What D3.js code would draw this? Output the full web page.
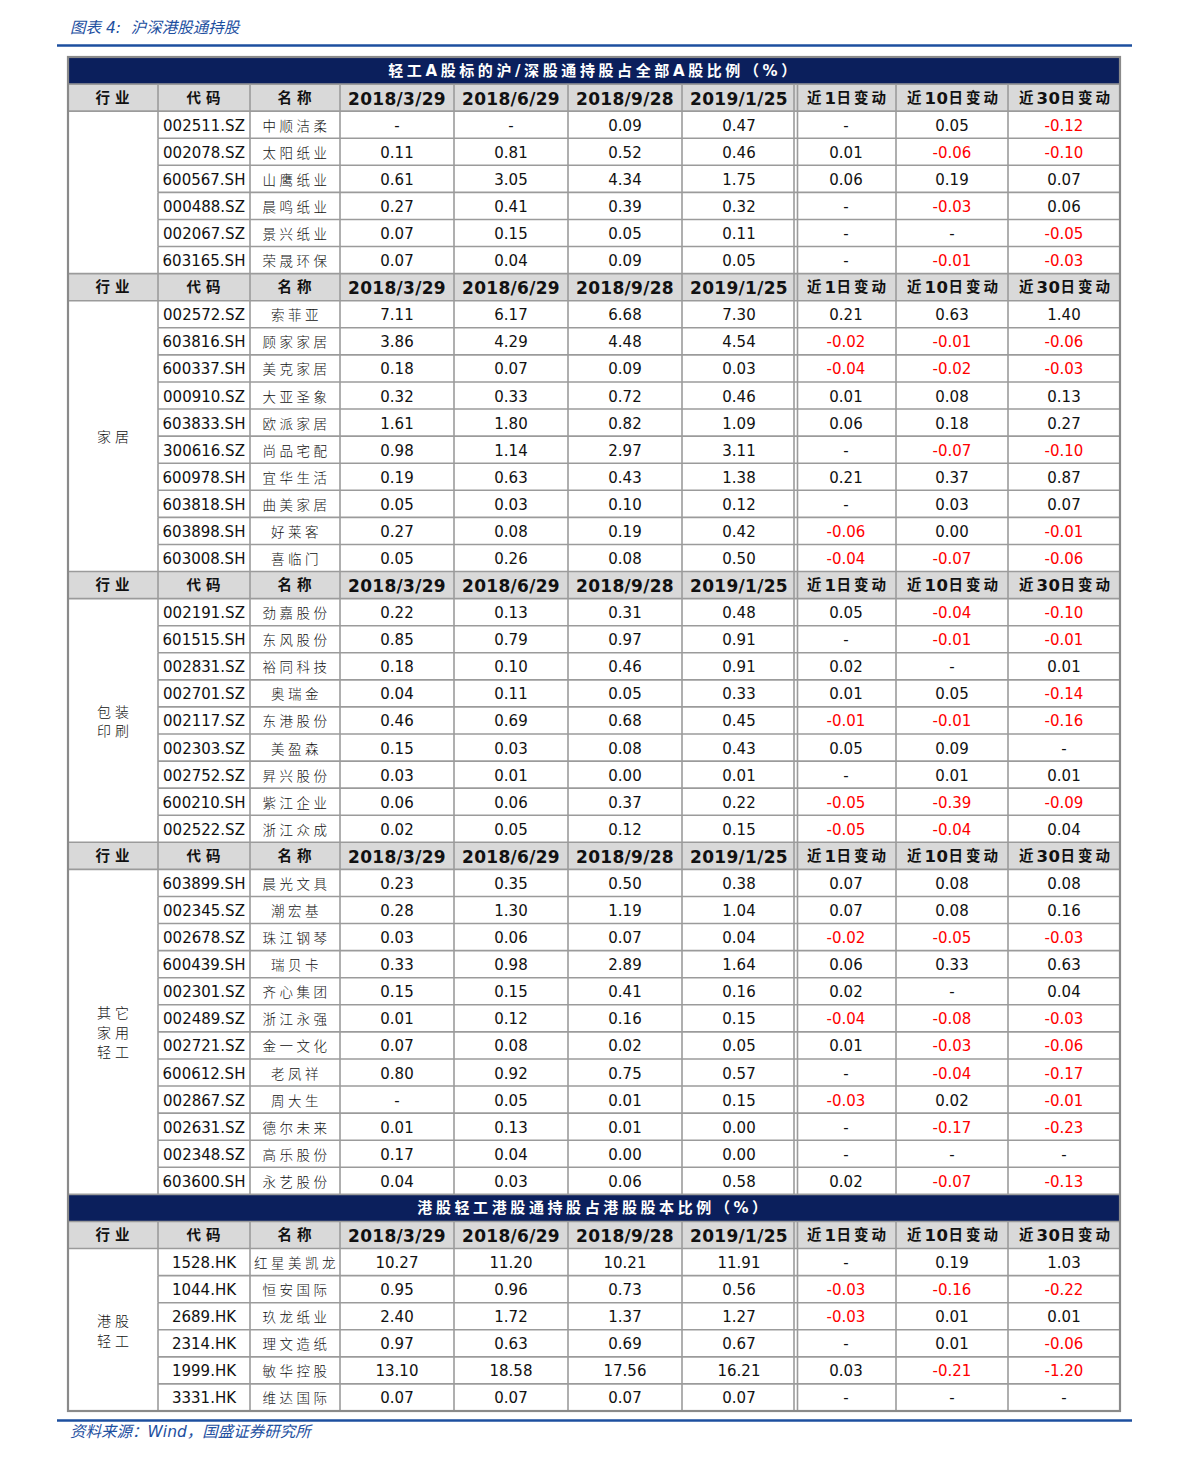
<!DOCTYPE html>
<html>
<head>
<meta charset="utf-8">
<script src="https://cdn.jsdelivr.net/npm/d3@7"></script>
<style>
  html, body { margin: 0; padding: 0; background: #fff; }
  svg { display: block; }
</style>
</head>
<body>
<svg id="chart" width="1191" height="1460"></svg>
<script>
// ---------- DATA ----------
const figureTitle = "图表 4:  沪深港股通持股";
const sourceNote = "资料来源：Wind，国盛证券研究所";
const tableTitleA = "轻工A股标的沪/深股通持股占全部A股比例（%）";
const tableTitleHK = "港股轻工港股通持股占港股股本比例（%）";
const headerLabels = ["行业", "代码", "名称", "2018/3/29", "2018/6/29", "2018/9/28", "2019/1/25", "近1日变动", "近10日变动", "近30日变动"];

const industries = ["", "家居", "包装\n印刷", "其它\n家用\n轻工", "港股\n轻工"];

const rowsPaper = [
  ["002511.SZ", "中顺洁柔", "-", "-", "0.09", "0.47", "-", "0.05", "-0.12"],
  ["002078.SZ", "太阳纸业", "0.11", "0.81", "0.52", "0.46", "0.01", "-0.06", "-0.10"],
  ["600567.SH", "山鹰纸业", "0.61", "3.05", "4.34", "1.75", "0.06", "0.19", "0.07"],
  ["000488.SZ", "晨鸣纸业", "0.27", "0.41", "0.39", "0.32", "-", "-0.03", "0.06"],
  ["002067.SZ", "景兴纸业", "0.07", "0.15", "0.05", "0.11", "-", "-", "-0.05"],
  ["603165.SH", "荣晟环保", "0.07", "0.04", "0.09", "0.05", "-", "-0.01", "-0.03"]
];
const rowsHome = [
  ["002572.SZ", "索菲亚", "7.11", "6.17", "6.68", "7.30", "0.21", "0.63", "1.40"],
  ["603816.SH", "顾家家居", "3.86", "4.29", "4.48", "4.54", "-0.02", "-0.01", "-0.06"],
  ["600337.SH", "美克家居", "0.18", "0.07", "0.09", "0.03", "-0.04", "-0.02", "-0.03"],
  ["000910.SZ", "大亚圣象", "0.32", "0.33", "0.72", "0.46", "0.01", "0.08", "0.13"],
  ["603833.SH", "欧派家居", "1.61", "1.80", "0.82", "1.09", "0.06", "0.18", "0.27"],
  ["300616.SZ", "尚品宅配", "0.98", "1.14", "2.97", "3.11", "-", "-0.07", "-0.10"],
  ["600978.SH", "宜华生活", "0.19", "0.63", "0.43", "1.38", "0.21", "0.37", "0.87"],
  ["603818.SH", "曲美家居", "0.05", "0.03", "0.10", "0.12", "-", "0.03", "0.07"],
  ["603898.SH", "好莱客", "0.27", "0.08", "0.19", "0.42", "-0.06", "0.00", "-0.01"],
  ["603008.SH", "喜临门", "0.05", "0.26", "0.08", "0.50", "-0.04", "-0.07", "-0.06"]
];
const rowsPack = [
  ["002191.SZ", "劲嘉股份", "0.22", "0.13", "0.31", "0.48", "0.05", "-0.04", "-0.10"],
  ["601515.SH", "东风股份", "0.85", "0.79", "0.97", "0.91", "-", "-0.01", "-0.01"],
  ["002831.SZ", "裕同科技", "0.18", "0.10", "0.46", "0.91", "0.02", "-", "0.01"],
  ["002701.SZ", "奥瑞金", "0.04", "0.11", "0.05", "0.33", "0.01", "0.05", "-0.14"],
  ["002117.SZ", "东港股份", "0.46", "0.69", "0.68", "0.45", "-0.01", "-0.01", "-0.16"],
  ["002303.SZ", "美盈森", "0.15", "0.03", "0.08", "0.43", "0.05", "0.09", "-"],
  ["002752.SZ", "昇兴股份", "0.03", "0.01", "0.00", "0.01", "-", "0.01", "0.01"],
  ["600210.SH", "紫江企业", "0.06", "0.06", "0.37", "0.22", "-0.05", "-0.39", "-0.09"],
  ["002522.SZ", "浙江众成", "0.02", "0.05", "0.12", "0.15", "-0.05", "-0.04", "0.04"]
];
const rowsOther = [
  ["603899.SH", "晨光文具", "0.23", "0.35", "0.50", "0.38", "0.07", "0.08", "0.08"],
  ["002345.SZ", "潮宏基", "0.28", "1.30", "1.19", "1.04", "0.07", "0.08", "0.16"],
  ["002678.SZ", "珠江钢琴", "0.03", "0.06", "0.07", "0.04", "-0.02", "-0.05", "-0.03"],
  ["600439.SH", "瑞贝卡", "0.33", "0.98", "2.89", "1.64", "0.06", "0.33", "0.63"],
  ["002301.SZ", "齐心集团", "0.15", "0.15", "0.41", "0.16", "0.02", "-", "0.04"],
  ["002489.SZ", "浙江永强", "0.01", "0.12", "0.16", "0.15", "-0.04", "-0.08", "-0.03"],
  ["002721.SZ", "金一文化", "0.07", "0.08", "0.02", "0.05", "0.01", "-0.03", "-0.06"],
  ["600612.SH", "老凤祥", "0.80", "0.92", "0.75", "0.57", "-", "-0.04", "-0.17"],
  ["002867.SZ", "周大生", "-", "0.05", "0.01", "0.15", "-0.03", "0.02", "-0.01"],
  ["002631.SZ", "德尔未来", "0.01", "0.13", "0.01", "0.00", "-", "-0.17", "-0.23"],
  ["002348.SZ", "高乐股份", "0.17", "0.04", "0.00", "0.00", "-", "-", "-"],
  ["603600.SH", "永艺股份", "0.04", "0.03", "0.06", "0.58", "0.02", "-0.07", "-0.13"]
];
const rowsHK = [
  ["1528.HK", "红星美凯龙", "10.27", "11.20", "10.21", "11.91", "-", "0.19", "1.03"],
  ["1044.HK", "恒安国际", "0.95", "0.96", "0.73", "0.56", "-0.03", "-0.16", "-0.22"],
  ["2689.HK", "玖龙纸业", "2.40", "1.72", "1.37", "1.27", "-0.03", "0.01", "0.01"],
  ["2314.HK", "理文造纸", "0.97", "0.63", "0.69", "0.67", "-", "0.01", "-0.06"],
  ["1999.HK", "敏华控股", "13.10", "18.58", "17.56", "16.21", "0.03", "-0.21", "-1.20"],
  ["3331.HK", "维达国际", "0.07", "0.07", "0.07", "0.07", "-", "-", "-"]
];

// sections: [titleBefore (or null), industry label, rows]
const sections = [
  [tableTitleA, industries[0], rowsPaper],
  [null, industries[1], rowsHome],
  [null, industries[2], rowsPack],
  [null, industries[3], rowsOther],
  [tableTitleHK, industries[4], rowsHK]
];

// ---------- LAYOUT ----------
const colWidths = [90, 92, 90, 114, 114, 114, 114, 100, 112, 112];
const tableLeft = 68, tableTop = 57, tableBottom = 1411;

const flat = [];
sections.forEach(([title, ind, rows], si) => {
  if (title) flat.push({type: "title", text: title});
  flat.push({type: "header"});
  rows.forEach((r, i) => flat.push({type: "data", row: r, section: si, idx: i, n: rows.length, ind}));
});

const y = d3.scaleBand().domain(d3.range(flat.length)).range([tableTop, tableBottom]).padding(0);
const edges = [tableLeft].concat(Array.from(d3.cumsum(colWidths), v => tableLeft + v));
const x = d3.scaleOrdinal().domain(d3.range(colWidths.length + 1)).range(edges);
const tableRight = x(colWidths.length);
const cx = i => (x(i) + x(i + 1)) / 2;

const svg = d3.select("#chart");
const NAVY = "#0b1f5c";
const GRID = "#9b9b9b";
const BLUE = "#1d4f9f";
const CJK = "'Noto Sans CJK SC', sans-serif";
const NUM = "'DejaVu Sans', 'Noto Sans CJK SC', sans-serif";

// figure title + rules
svg.append("text").attr("x", 70).attr("y", 33)
  .attr("font-family", "'DejaVu Sans', 'Noto Sans CJK SC'")
  .attr("font-style", "italic").attr("font-size", 15.5).attr("fill", BLUE)
  .style("white-space", "pre")
  .text(figureTitle);
svg.append("line").attr("x1", 57).attr("x2", 1132).attr("y1", 45.5).attr("y2", 45.5)
  .attr("stroke", BLUE).attr("stroke-width", 2.5);
svg.append("line").attr("x1", 57).attr("x2", 1132).attr("y1", 1420.5).attr("y2", 1420.5)
  .attr("stroke", BLUE).attr("stroke-width", 2.5);
svg.append("text").attr("x", 70).attr("y", 1437)
  .attr("font-family", "'DejaVu Sans', 'Noto Sans CJK SC'")
  .attr("font-style", "italic").attr("font-size", 15.5).attr("fill", BLUE)
  .text(sourceNote);

const g = svg.append("g");

flat.forEach((d, i) => {
  if (d.type === "title") {
    g.append("rect").attr("x", tableLeft).attr("y", y(i)).attr("width", tableRight - tableLeft)
      .attr("height", y.bandwidth()).attr("fill", NAVY);
  } else if (d.type === "header") {
    g.append("rect").attr("x", tableLeft).attr("y", y(i)).attr("width", tableRight - tableLeft)
      .attr("height", y.bandwidth()).attr("fill", "#d9d9d9");
  }
});

const grid = g.append("g").attr("stroke", GRID).attr("stroke-width", 1.6);
flat.forEach((d, i) => {
  if (i === 0) return;
  const prev = flat[i - 1];
  const x1 = (d.type === "data" && prev.type === "data") ? x(1) : tableLeft;
  grid.append("line").attr("x1", x1).attr("x2", tableRight).attr("y1", y(i)).attr("y2", y(i));
});
flat.forEach((d, i) => {
  if (d.type === "title") return;
  for (let c = 1; c < colWidths.length; c++) {
    const xs = c === 7 ? [x(c) - 2, x(c) + 1.5] : [x(c)];
    xs.forEach(xx => grid.append("line").attr("x1", xx).attr("x2", xx)
      .attr("y1", y(i)).attr("y2", y(i) + y.bandwidth()));
  }
});
g.append("rect").attr("x", tableLeft).attr("y", tableTop)
  .attr("width", tableRight - tableLeft).attr("height", tableBottom - tableTop)
  .attr("fill", "none").attr("stroke", "#8a8a8a").attr("stroke-width", 2.2);

// split mixed text into CJK chars and latin runs
function runs(s) {
  return s.match(/[\u3000-\u9fff\uff00-\uffef]|[^\u3000-\u9fff\uff00-\uffef]+/g);
}

const tg = svg.append("g").attr("text-anchor", "middle").attr("dominant-baseline", "central");
flat.forEach((d, i) => {
  const yc = y(i) + y.bandwidth() / 2;
  if (d.type === "title") {
    tg.append("text").attr("x", (tableLeft + tableRight) / 2).attr("y", yc)
      .attr("font-family", NUM).attr("font-weight", "bold").attr("font-size", 15)
      .attr("letter-spacing", 3.6).attr("fill", "#fff").text(d.text);
  } else if (d.type === "header") {
    headerLabels.forEach((h, c) => {
      const isDate = c >= 3 && c <= 6;
      const t = tg.append("text").attr("x", cx(c) + (isDate ? 0 : 2)).attr("y", yc + (isDate ? 1 : 0))
        .attr("font-family", NUM).attr("font-weight", "bold")
        .attr("font-size", isDate ? 17 : 14.5)
        .attr("fill", "#111");
      if (isDate) {
        t.attr("letter-spacing", 0.3).text(h);
      } else {
        const ls = c < 3 ? 5 : 3;
        runs(h).forEach(r => {
          const cjk = /[\u3000-\u9fff]/.test(r);
          t.append("tspan").attr("letter-spacing", cjk ? ls : 0.5)
            .attr("font-size", cjk ? 14.5 : 16.5).text(r);
        });
      }
    });
  } else {
    d.row.forEach((v, k) => {
      const c = k + 1;
      const neg = c >= 7 && v.startsWith("-") && v.length > 1;
      const isName = c === 2;
      tg.append("text").attr("x", cx(c) + (isName ? 1.5 : 0)).attr("y", yc + (isName ? 0 : 1))
        .attr("font-family", isName ? CJK : NUM)
        .attr("font-size", isName ? 13.5 : 15)
        .attr("font-weight", isName ? 300 : 400)
        .attr("letter-spacing", isName ? 3.5 : 0)
        .attr("fill", neg ? "#ff0000" : "#111").text(v);
    });
    if (d.idx === 0 && d.ind) {
      const lines = d.ind.split("\n");
      const top = y(i), bot = y(i + d.n - 1) + y.bandwidth();
      const mid = (top + bot) / 2;
      const lh = 19.5;
      lines.forEach((ln, j) => {
        tg.append("text").attr("x", cx(0) + 2).attr("y", mid + (j - (lines.length - 1) / 2) * lh)
          .attr("font-family", CJK).attr("font-size", 14).attr("font-weight", 300)
          .attr("letter-spacing", 4).attr("fill", "#111").text(ln);
      });
    }
  }
});
</script>
</body>
</html>
